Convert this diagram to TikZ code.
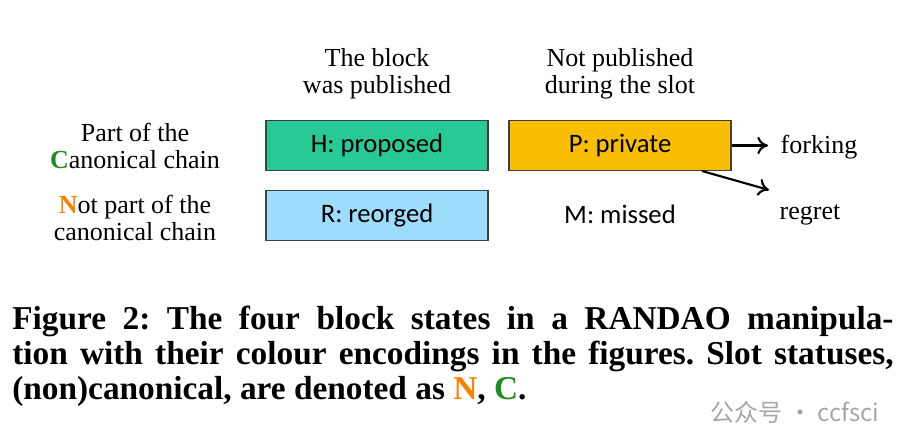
\documentclass[tikz,border=0pt]{standalone}
\usepackage{fontspec}
\setmainfont{Liberation Serif}
\setsansfont{Carlito}
\newfontfamily\cjkfont{Noto Sans CJK SC}
\usetikzlibrary{arrows.meta}
\definecolor{headgreen}{RGB}{39,201,150}
\definecolor{reorgblue}{RGB}{158,220,251}
\definecolor{privateamber}{RGB}{250,190,0}
\definecolor{slotorange}{RGB}{255,128,0}
\definecolor{slotgreen}{RGB}{30,140,30}
\tikzset{state/.style={draw=black!75,line width=.8pt,minimum width=166.5pt,minimum height=38pt,inner sep=0pt,font=\sffamily\fontsize{20}{22}\selectfont},
  rowtext/.style={align=center,font=\fontsize{19.5}{20.5}\selectfont},
  arrow/.style={-{To[length=8pt,width=13pt]},line width=1.6pt},
  captionline/.style={anchor=base west,inner sep=0pt,font=\bfseries\fontsize{25}{26}\selectfont}}
\frenchspacing

\begin{document}
\begin{tikzpicture}[x=0.75pt,y=-0.75pt]
  \path[use as bounding box] (0,0) rectangle (906,448);
  % column and row headings
  \node[rowtext] (pubhead) at (377,74) {The block\\was published};
  \node[rowtext] (nopubhead) at (620,74) {Not published\\during the slot};
  \node[rowtext] (canon) at (135,146) {Part of the\\\textcolor{slotgreen}{\textbf{C}}anonical chain};
  \node[rowtext] (noncanon) at (135,218) {\textcolor{slotorange}{\textbf{N}}ot part of the\\canonical chain};
  % the four states
  \node[state,fill=headgreen] (H) at (377,145.5) {H: proposed};
  \node[state,fill=reorgblue] (R) at (377,215.5) {R: reorged};
  \node[state,fill=privateamber] (P) at (620,145.5) {P: private};
  \node[font=\sffamily\fontsize{20}{22}\selectfont] (M) at (620,214) {M: missed};
  % outcomes of a private block
  \node[rowtext,anchor=west] (fork) at (776,147) {forking};
  \node[rowtext] (regret) at (810,215) {regret};
  \coordinate (tap) at (702,171);
  \coordinate (regtip) at (769,190);
  \draw[arrow,shorten >=6pt] (P.east) -- (P.east -| fork.west);
  \draw[arrow] (tap) -- (regtip);
  % caption
  \node[captionline] (cap1) at (12,330) {\makebox[661pt][s]{Figure 2: The four block states in a RANDAO manipula-}};
  \node[captionline] (cap2) at (12,365) {\makebox[661pt][s]{tion with their colour encodings in the figures. Slot statuses,}};
  \node[captionline] (cap3) at (12,400) {(non)canonical, are denoted as \textcolor{slotorange}{N}, \textcolor{slotgreen}{C}.};
  \node[text=black!35,font=\cjkfont\fontsize{18}{20}\selectfont] (mark) at (795,412) {公众号 · ccfsci};
\end{tikzpicture}
\end{document}
